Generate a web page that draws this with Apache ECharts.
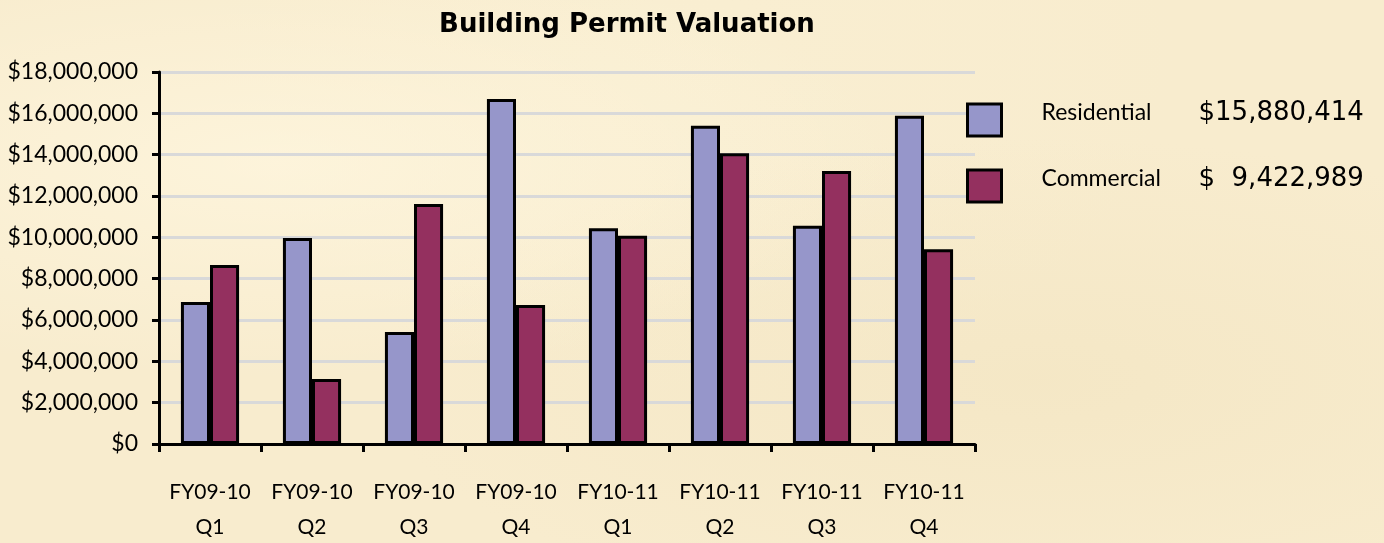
<!DOCTYPE html>
<html><head><meta charset="utf-8">
<script src="https://cdn.jsdelivr.net/npm/echarts@6/dist/echarts.min.js"></script>
<style>
html,body{margin:0;padding:0;width:1384px;height:543px;overflow:hidden;
background:#F8ECCE;
background-image:radial-gradient(ellipse at 20% 30%, rgba(255,247,224,0.7), rgba(255,247,224,0) 40%),
radial-gradient(ellipse at 75% 70%, rgba(242,228,192,0.6), rgba(242,228,192,0) 45%),
radial-gradient(ellipse at 50% 10%, rgba(250,240,212,0.6), rgba(250,240,212,0) 50%);}
#c{width:1384px;height:543px;}
</style></head><body><div id="c"></div>
<script>
const categories = ['FY09-10\nQ1','FY09-10\nQ2','FY09-10\nQ3','FY09-10\nQ4','FY10-11\nQ1','FY10-11\nQ2','FY10-11\nQ3','FY10-11\nQ4'];
const residential = [6870000, 9970000, 5420000, 16690000, 10440000, 15400000, 10560000, 15880414];
const commercial  = [8660000, 3150000, 11610000, 6730000, 10080000, 14070000, 13210000, 9422989];
const yTicks = {min: 0, max: 18000000, interval: 2000000};

const font = 'Lato, "Open Sans", sans-serif';
const wide = '"DejaVu Sans", sans-serif';
const seriesData = {Residential: residential, Commercial: commercial};
function money(v){ return '$' + v.toLocaleString('en-US'); }
function legendValue(name){
  const arr = seriesData[name];
  const s = arr[arr.length - 1].toLocaleString('en-US');
  return '$' + (s.length < 10 ? '  ' : '') + s;
}
const chart = echarts.init(document.getElementById('c'), null, {renderer: 'canvas'});
chart.setOption({
  backgroundColor: 'transparent',
  title: {text: 'Building Permit Valuation', left: 622, top: 7, textAlign: 'center',
    textStyle: {fontFamily: wide, fontWeight: 'bold', fontSize: 26, color: '#000'}},
  grid: {left: 159, right: 409, top: 72, bottom: 99, containLabel: false, outerBoundsMode: 'none'},
  legend: {
    orient: 'vertical', left: 966, top: 100, padding: 0, itemWidth: 34, itemHeight: 32, itemGap: 26,
    icon: 'rect',
    itemStyle: {borderColor: '#000', borderWidth: 3},
    formatter: function(name){ return '{n|' + name + '}{v|' + legendValue(name) + '}'; },
    textStyle: {fontFamily: font, fontSize: 23, color: '#000',
      rich: {
        n: {fontFamily: font, fontSize: 23, width: 157, lineHeight: 32, padding: [0, 0, 14, 35]},
        v: {fontFamily: wide, fontSize: 26, lineHeight: 32, padding: [0, 0, 14, 0]}
      }}
  },
  xAxis: {
    type: 'category', data: categories,
    axisLine: {lineStyle: {color: '#000', width: 3}},
    axisTick: {show: true, length: 8, lineStyle: {color: '#000', width: 3}},
    axisLabel: {fontFamily: font, fontSize: 21, color: '#000', lineHeight: 35, margin: 31, interval: 0}
  },
  yAxis: {
    type: 'value', min: yTicks.min, max: yTicks.max, interval: yTicks.interval,
    axisLine: {show: true, lineStyle: {color: '#000', width: 3}},
    axisTick: {show: true, length: 7, lineStyle: {color: '#000', width: 3}},
    axisLabel: {fontFamily: font, fontSize: 23, color: '#000', margin: 21, formatter: money},
    splitLine: {lineStyle: {color: '#D9D9D9', width: 3}}
  },
  series: [
    {name: 'Residential', type: 'bar', data: residential, barGap: '0%', barCategoryGap: '43%',
     itemStyle: {color: '#9696CA', borderColor: '#000', borderWidth: 3}},
    {name: 'Commercial', type: 'bar', data: commercial,
     itemStyle: {color: '#94305F', borderColor: '#000', borderWidth: 3}}
  ]
});
</script></body></html>
